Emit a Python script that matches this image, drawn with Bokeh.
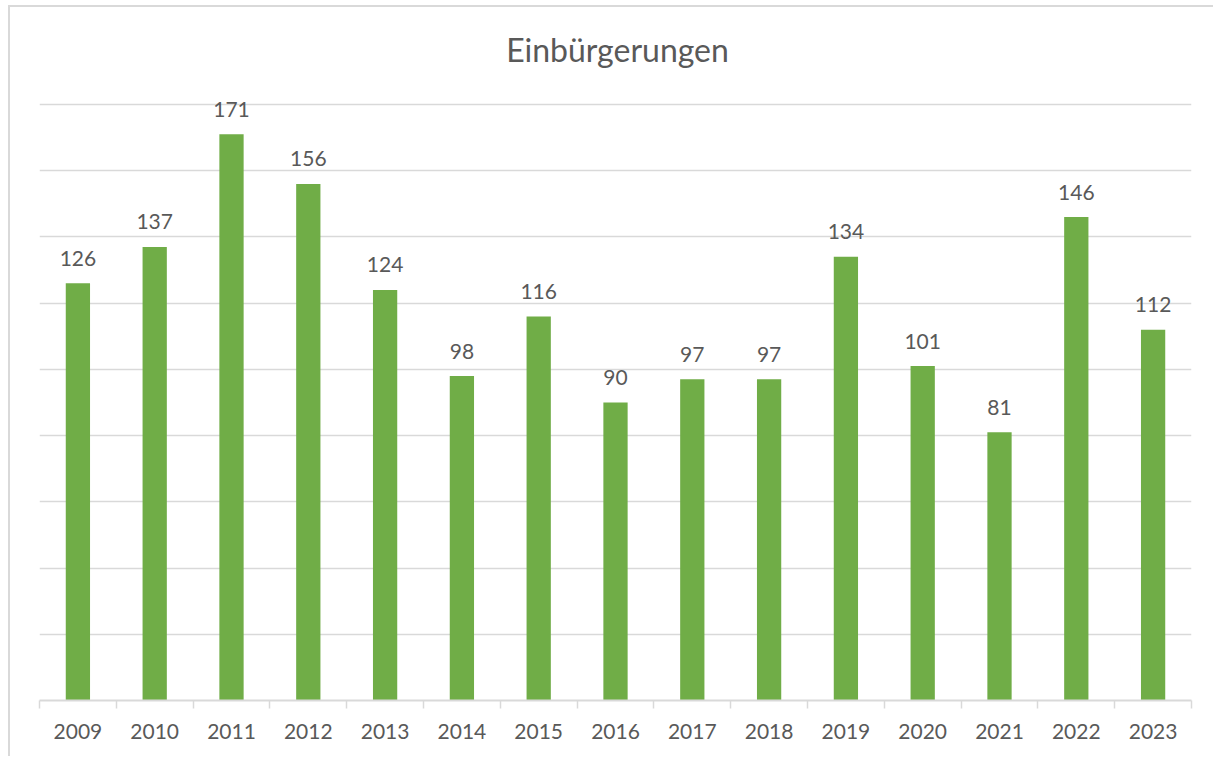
from bokeh.plotting import figure
from bokeh.models import ColumnDataSource, FixedTicker, LabelSet, Label, Range1d
from bokeh.core.properties import value
from bokeh.embed import file_html
from bokeh.resources import INLINE

years = ["2009", "2010", "2011", "2012", "2013", "2014", "2015", "2016",
         "2017", "2018", "2019", "2020", "2021", "2022", "2023"]
values = [126, 137, 171, 156, 124, 98, 116, 90, 97, 97, 134, 101, 81, 146, 112]
title_text = "Einbürgerungen"
grid_ticks = [20, 40, 60, 80, 100, 120, 140, 160, 180]

FONT = "Lato"
TXT = "#595959"
GRID = "#d9d9d9"
GREEN = "#70ad47"

xs = [i + 0.5 for i in range(len(years))]
src = ColumnDataSource(dict(x=xs, v=values, lab=[str(v) for v in values]))

p = figure(width=1205, height=751, output_backend="svg", toolbar_location=None,
           x_range=Range1d(0, len(years)), y_range=Range1d(0, 209.3),
           min_border_left=29, min_border_right=24, min_border_top=0,
           min_border_bottom=58)
p.styles = {"border-left": "2px solid #d9d9d9", "border-top": "2px solid #d9d9d9",
            "margin-left": "8px", "margin-top": "5px"}
p.outline_line_color = None
p.background_fill_color = "white"
p.border_fill_color = "white"

p.vbar(x="x", top="v", width=0.316, bottom=0, source=src,
       fill_color=GREEN, line_color=None)

labels = LabelSet(x="x", y="v", text="lab", source=src, text_align="center",
                  text_baseline="middle", y_offset=25, text_font=value(FONT),
                  text_font_size=value("21px"), text_color=value(TXT))
p.add_layout(labels)

title = Label(x=len(years) / 2, y=max(grid_ticks), x_offset=2, y_offset=55,
              text=title_text, text_align="center", text_baseline="middle",
              text_font=FONT, text_font_size="32px", text_color=TXT)
p.add_layout(title)

p.yaxis.visible = False
p.ygrid.ticker = FixedTicker(ticks=grid_ticks)
p.ygrid.grid_line_color = GRID
p.ygrid.grid_line_width = 1.5
p.xgrid.visible = False

ax = p.xaxis[0]
ax.ticker = FixedTicker(ticks=xs, minor_ticks=list(range(0, len(years) + 1)))
ax.major_label_overrides = {x: y for x, y in zip(xs, years)}
ax.major_tick_out = 0
ax.major_tick_in = 0
ax.minor_tick_out = 8
ax.minor_tick_in = 0
ax.minor_tick_line_color = GRID
ax.minor_tick_line_width = 1.5
ax.axis_line_color = GRID
ax.axis_line_width = 2
ax.major_label_standoff = 15
ax.major_label_text_font = FONT
ax.major_label_text_font_size = "21px"
ax.major_label_text_color = TXT

open("out.html", "w").write(file_html(p, INLINE))
